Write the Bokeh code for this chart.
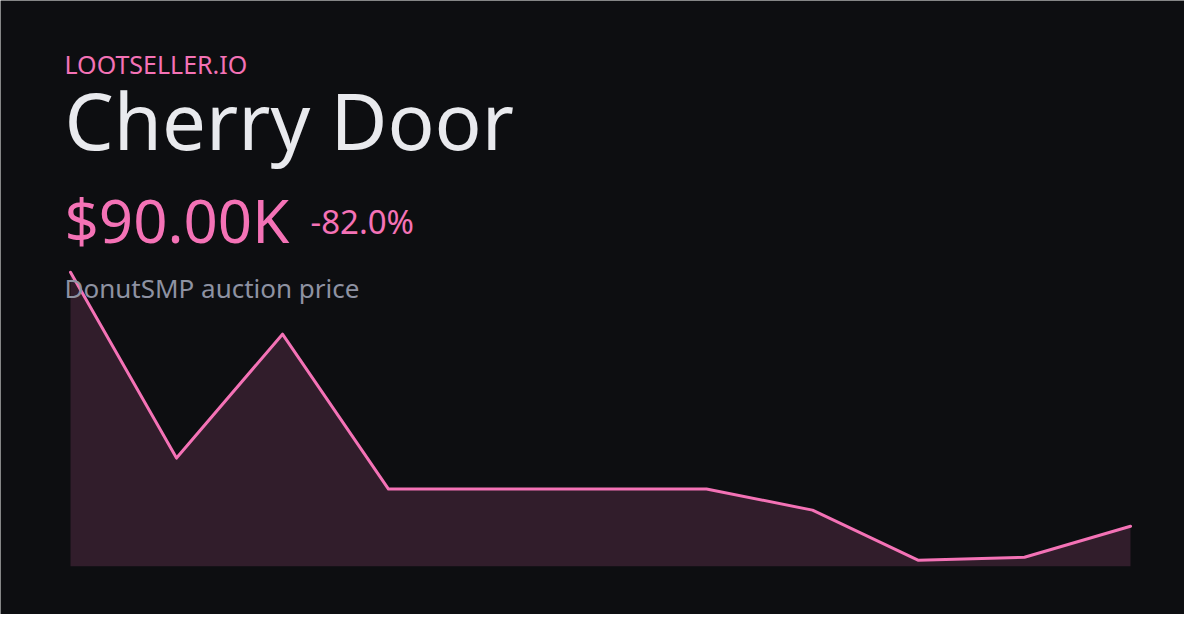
from bokeh.plotting import figure
from bokeh.models import Range1d, Label, ColumnDataSource
from bokeh.embed import file_html
from bokeh.resources import INLINE

# ---- data ----
brand = "LOOTSELLER.IO"
item_name = "Cherry Door"
price_label = "$90.00K"
change_label = "-82.0%"
subtitle = "DonutSMP auction price"
point_index = [0, 1, 2, 3, 4, 5, 6, 7, 8, 9, 10]
prices = [500000, 200000, 400000, 150000, 150000, 150000, 150000, 116000, 35000, 40000, 90000]

# ---- style ----
BG = "#0d0e11"
PINK = "#f472b6"
W, H = 1184, 614
FONT = "Noto Sans"
baseline_value = 25500

src = ColumnDataSource(dict(x=point_index, y=prices, base=[baseline_value] * len(prices)))

p = figure(width=W, height=H, output_backend="svg", toolbar_location=None,
           x_range=Range1d(-0.6604, 10.5094), y_range=Range1d(-52500, 938700),
           min_border=0, min_border_left=0, min_border_right=0,
           min_border_top=0, min_border_bottom=0)
p.xaxis.visible = False
p.yaxis.visible = False
p.grid.visible = False
p.outline_line_color = None
p.background_fill_color = BG
p.border_fill_color = BG

p.varea(x="x", y1="base", y2="y", source=src, fill_color=PINK, fill_alpha=0.16)


def lbl(text, x, y, size, color):
    p.add_layout(Label(x=x, y=y, x_units="screen", y_units="screen", text=text,
                       text_font=FONT, text_font_size=f"{size}px", text_color=color,
                       text_baseline="alphabetic", text_align="left"))


lbl(brand, 64, 551, 25, PINK)
lbl(item_name, 64, 494.5, 78, "#e9eaee")
lbl(price_label, 64, 394.5, 60, PINK)
lbl(change_label, 310, 393.5, 33, PINK)
lbl(subtitle, 64, 326.5, 26, "#8e92a2")

p.line(x="x", y="y", source=src, line_color=PINK, line_width=3, line_join="round", line_cap="round")

open("out.html", "w").write(file_html(p, INLINE))
